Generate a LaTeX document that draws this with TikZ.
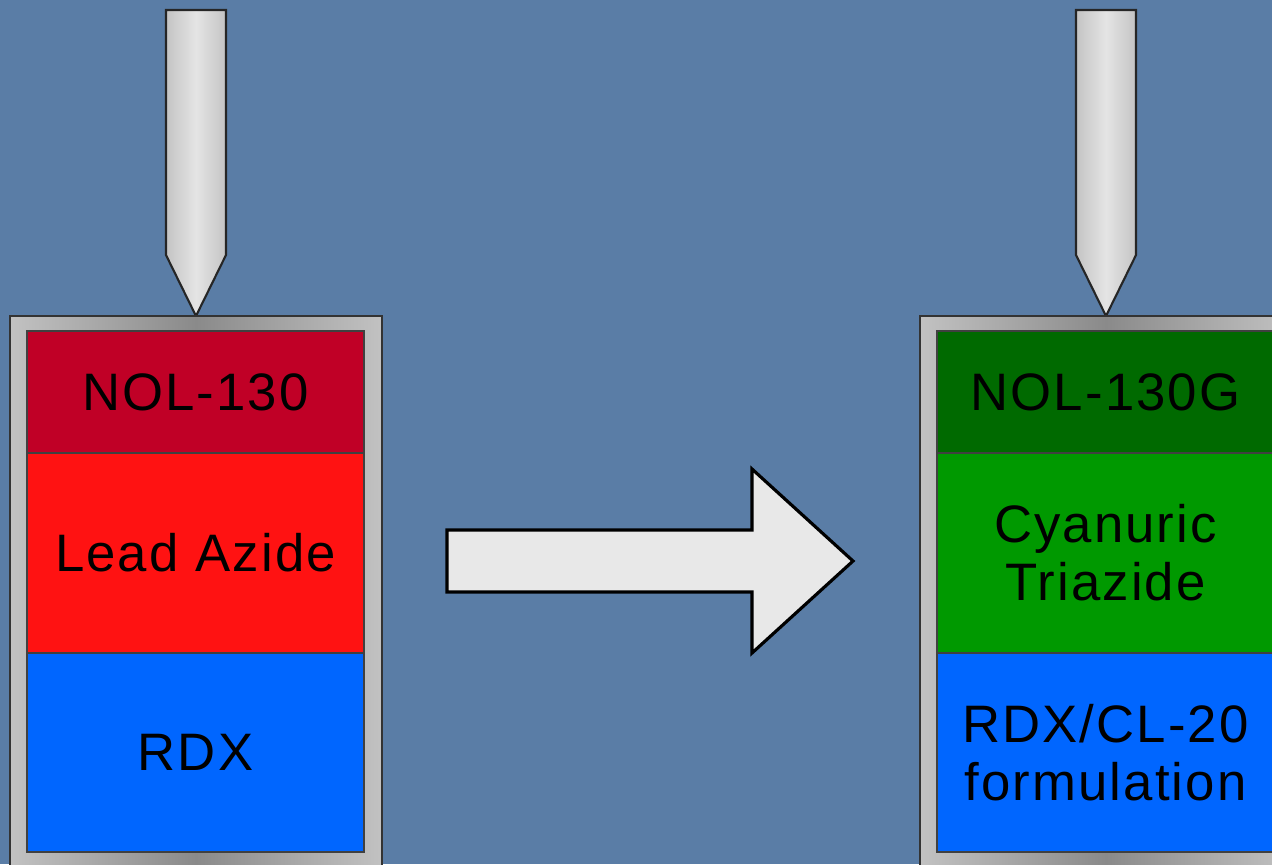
\documentclass[tikz,border=0pt]{standalone}
\usepackage{fontspec}
\setmainfont{Liberation Sans}[LetterSpace=4.0]
\usepackage{tikz}
\usetikzlibrary{positioning}
\definecolor{slideblue}  {RGB}{ 90, 125, 166}
\definecolor{caseedge}   {RGB}{194, 194, 194}
\definecolor{casemid}    {RGB}{138, 138, 138}
\definecolor{pinedge}    {RGB}{196, 196, 196}
\definecolor{pinmid}     {RGB}{228, 228, 228}
\definecolor{noldarkred} {RGB}{192,   0,  38}
\definecolor{azidered}   {RGB}{255,  18,  18}
\definecolor{rdxblue}    {RGB}{  0, 102, 255}
\definecolor{noldarkgrn} {RGB}{  0, 106,   0}
\definecolor{cyangreen}  {RGB}{  0, 153,   0}
\definecolor{arrowgray}  {RGB}{232, 232, 232}

\begin{document}
\begin{tikzpicture}[x=0.1mm,y=-0.1mm,
	layer/.style={draw=black!75, line width=0.5pt, outer sep=0pt, inner sep=0pt,
		minimum width=33.7mm, align=center, text=black,
		font=\fontsize{15}{16.5}\selectfont},
	casing/.style={draw=black!80, line width=0.5pt,
		left color=caseedge, right color=caseedge, middle color=casemid},
	pinshape/.style={draw=black!85, line width=0.6pt,
		left color=pinedge, right color=pinedge, middle color=pinmid}]
	\clip (0,0) rectangle (1272,864);
	\fill[slideblue] (0,0) rectangle (1272,864);
	% pins and casings
	\foreach \px in {196,1106}{
		\draw[pinshape] (\px-30,10)--(\px+30,10)--(\px+30,255)--(\px,316)--(\px-30,255)--cycle;
		\draw[casing] (\px-186,316) rectangle (\px+186,890);
	}
	% old stack
	\node[layer, fill=noldarkred, minimum height=12.2mm] (nolL) at (195.5,392) {NOL-130};
	\node[layer, fill=azidered, minimum height=20mm, below=0pt of nolL] (azideL) {Lead Azide};
	\node[layer, fill=rdxblue, minimum height=19.9mm, below=0pt of azideL] (rdxL) {RDX};
	% new stack
	\node[layer, fill=noldarkgrn, minimum height=12.2mm] (nolR) at (1105.5,392) {NOL-130G};
	\node[layer, fill=cyangreen, minimum height=20mm, below=0pt of nolR] (cyanR) {Cyanuric\\Triazide};
	\node[layer, fill=rdxblue, minimum height=19.9mm, below=0pt of cyanR] (rdxR) {RDX/CL-20\\formulation};
	% block arrow
	\draw[line width=0.9pt, fill=arrowgray] (447,530)--(752,530)--(752,469)--(853,561)
		--(752,653)--(752,592)--(447,592)--cycle;
\end{tikzpicture}
\end{document}
